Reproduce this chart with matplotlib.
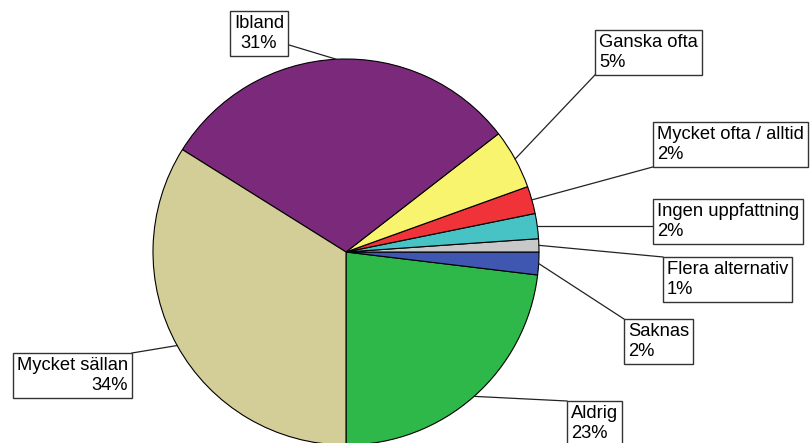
import matplotlib.pyplot as plt
import numpy as np

plt.rcParams['font.family'] = ['Liberation Sans', 'DejaVu Sans']

# answer categories, counter-clockwise from straight down
labels = ['Aldrig', 'Saknas', 'Flera alternativ', 'Ingen uppfattning',
          'Mycket ofta / alltid', 'Ganska ofta', 'Ibland', 'Mycket sällan']
shares = [23.1, 1.9, 1.1, 2.1, 2.3, 5.0, 30.6, 33.9]
colors = ['#2eb84a', '#3f57b0', '#c8c8c8', '#47c2c5',
          '#ef3339', '#f8f46e', '#7b2a7b', '#d3cd98']

# label box anchor (x, y in pixels from top-left) and text alignment
box_pos = [(567, 401), (624, 319), (663, 257), (653, 199),
           (653, 122), (595, 30), (259, 11), (132, 353)]
box_ha = ['left', 'left', 'left', 'left', 'left', 'left', 'center', 'right']

W, H = 811, 443
cx, cy, r = 346, 252, 193
fs = 13.2
pad = 0.22
pad_px = pad * fs * 100 / 72

fig = plt.figure(figsize=(W / 100, H / 100), dpi=100)
ax = fig.add_axes([0, 0, 1, 1])

wedges, _ = ax.pie(shares, colors=colors, startangle=270, counterclock=True,
                   center=(cx, H - cy), radius=r, frame=True,
                   wedgeprops=dict(edgecolor='black', linewidth=0.8))

ax.set_xlim(0, W)
ax.set_ylim(0, H)
ax.set_aspect('equal')
ax.axis('off')

for w, lab, val, (bx, by), ha in zip(wedges, labels, shares, box_pos, box_ha):
    mid = np.deg2rad((w.theta1 + w.theta2) / 2)
    px = cx + r * np.cos(mid)
    py = (H - cy) + r * np.sin(mid)
    if ha == 'left':
        tx = bx + pad_px
    elif ha == 'right':
        tx = bx - pad_px
    else:
        tx = bx
    txt = ax.text(tx, H - by - pad_px, f'{lab}\n{val:.0f}%', ha=ha, va='top',
                  fontsize=fs, linespacing=1.22, multialignment=ha, zorder=5,
                  bbox=dict(boxstyle=f'square,pad={pad}', facecolor='white',
                            edgecolor='#333333', linewidth=1.0))
    fig.canvas.draw()
    bb = txt.get_bbox_patch().get_window_extent().transformed(ax.transData.inverted())
    if ha == 'center':
        # top label: leader leaves from the right side
        lx, ly = bb.x1, bb.y0 + 0.25 * bb.height
    else:
        # leader runs to the nearest point on the box outline
        lx = min(max(px, bb.x0), bb.x1)
        ly = min(max(py, bb.y0), bb.y1)
    ax.plot([px, lx], [py, ly], color='#222222', linewidth=0.9, zorder=4)

fig.savefig('out.png', dpi=100)
